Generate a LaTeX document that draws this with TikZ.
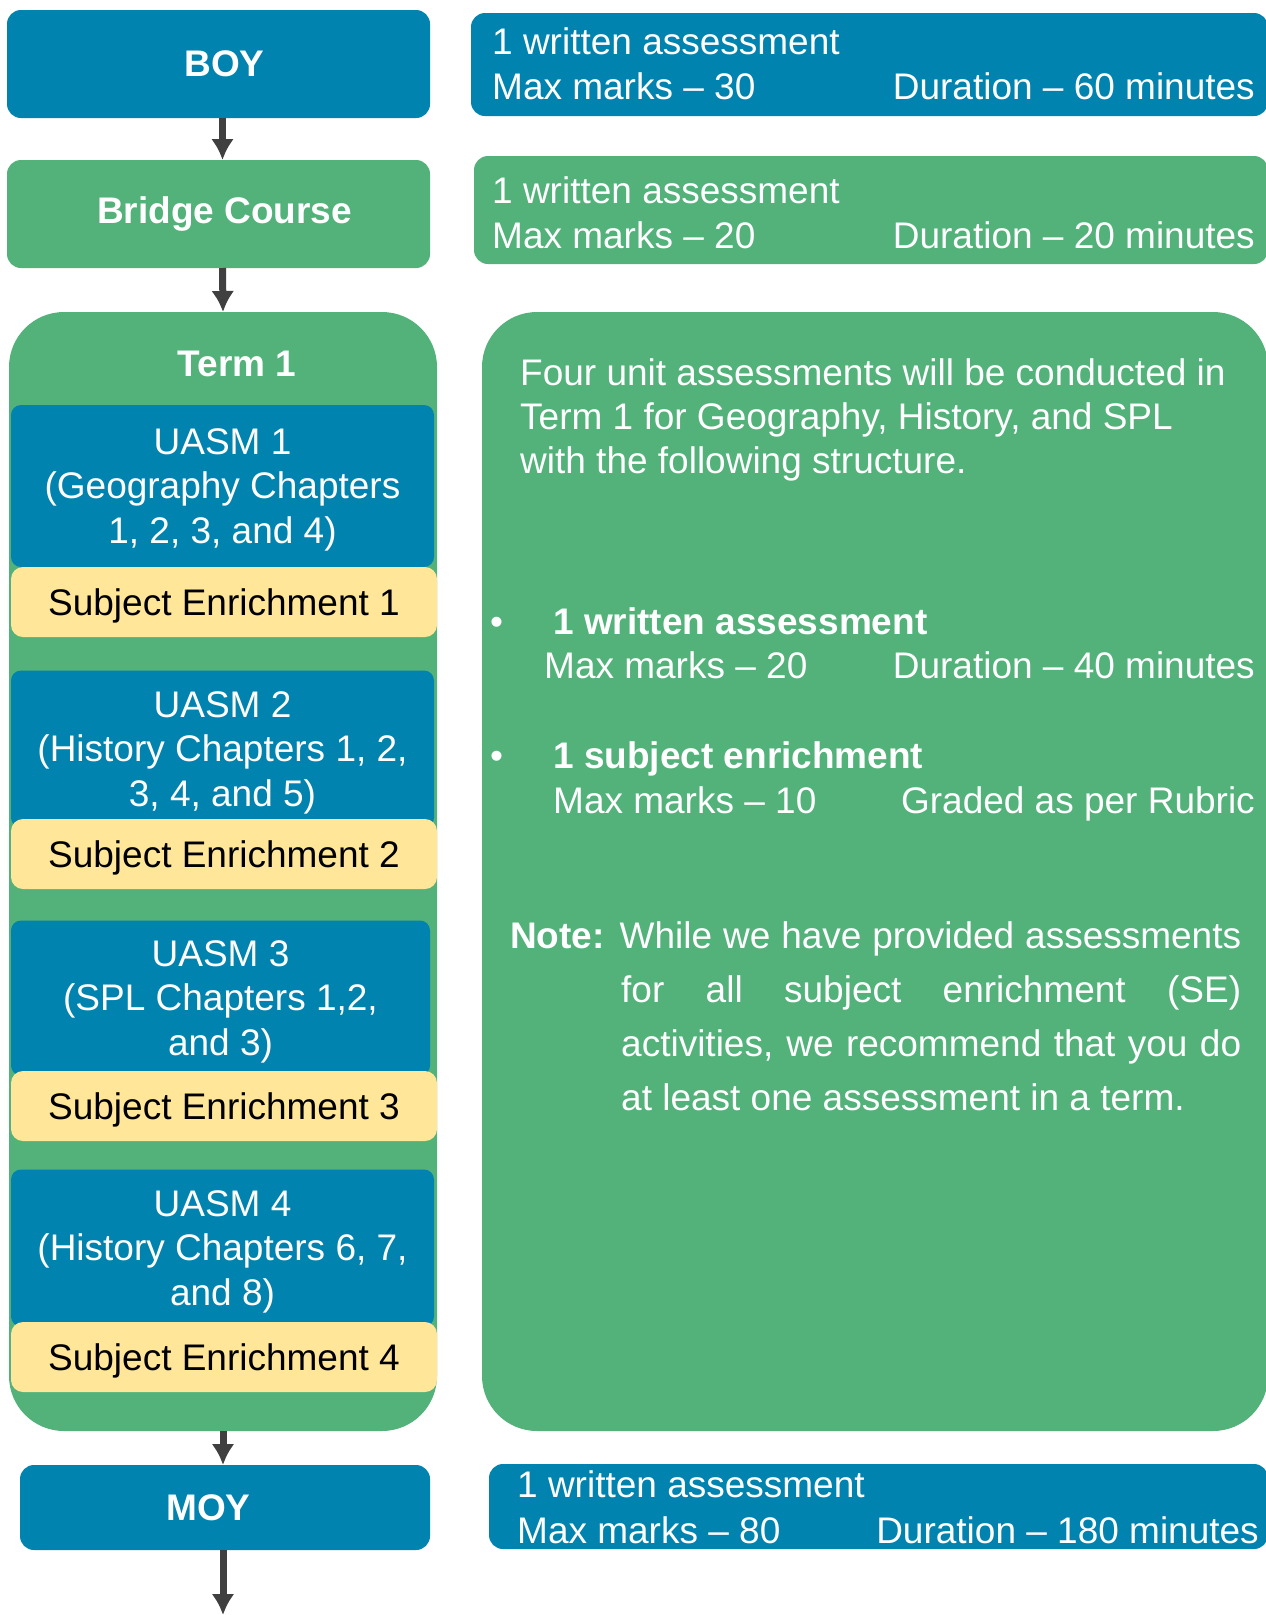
\documentclass[tikz,border=0pt]{standalone}
\usepackage{fontspec}
\setmainfont{Liberation Sans}
\usepackage{tikz}
\usetikzlibrary{calc,arrows.meta}

\definecolor{planblue}{RGB}{0,131,175}
\definecolor{plangreen}{RGB}{82,178,122}
\definecolor{planyellow}{RGB}{255,230,153}
\definecolor{arrowgrey}{RGB}{64,64,64}

\newcommand{\planfont}{\fontsize{37}{44.5}\selectfont}

\tikzset{
  box/.style={inner sep=0pt, outer sep=0pt, rounded corners=14pt, text=white},
  stagebox/.style={box, fill=planblue, font=\planfont\bfseries},
  infobox/.style={box, fill=planblue},
  uasmbox/.style={box, fill=planblue, rounded corners=10pt, align=center, text depth=0pt, font=\planfont},
  sebox/.style={box, fill=planyellow, text=black, rounded corners=12pt, text depth=0pt, font=\planfont},
  infotext/.style={inner sep=0pt, text=white, font=\planfont},
  flow/.style={-{Latex[length=21pt,width=23pt]}, line width=7pt, draw=arrowgrey},
}

\begin{document}
\begin{tikzpicture}[x=1pt, y=-1pt]
    \useasboundingbox (0,0) rectangle (1266,1615);
    \clip (0,0) rectangle (1266,1615);
    % stages on the left
    \node[stagebox, minimum width=423pt, minimum height=108pt] (boy) at (218.5,64) {\hspace*{12pt}BOY};
    \node[stagebox, fill=plangreen, minimum width=423pt, minimum height=108pt] (bridge) at (218.5,214) {\hspace*{12pt}Bridge Course};
    \node[box, fill=plangreen, rounded corners=55pt, minimum width=428pt, minimum height=1119pt] (term) at (223,871.5) {};
    \node[infotext, font=\planfont\bfseries] (termlabel) at (237,364) {Term 1};
    \node[stagebox, minimum width=410pt, minimum height=85pt] (moy) at (225,1507.5) {MOY\hspace*{33pt}};
    % unit assessments inside term 1
    \node[uasmbox, minimum width=423pt, minimum height=162pt] (uasma) at (222.5,486) {UASM 1\\(Geography Chapters\\1, 2, 3, and 4)};
    \node[sebox, minimum width=426pt, minimum height=70pt] (sea) at (224,602) {Subject Enrichment 1};
    \node[uasmbox, minimum width=423pt, minimum height=157pt] (uasmb) at (222.5,749) {UASM 2\\(History Chapters 1, 2,\\3, 4, and 5)};
    \node[sebox, minimum width=426pt, minimum height=70pt] (seb) at (224,854) {Subject Enrichment 2};
    \node[uasmbox, minimum width=419pt, minimum height=155pt] (uasmc) at (220.5,998) {UASM 3\\(SPL Chapters 1,2,\\and 3)};
    \node[sebox, minimum width=426pt, minimum height=70pt] (sec) at (224,1106) {Subject Enrichment 3};
    \node[uasmbox, minimum width=423pt, minimum height=157pt] (uasmd) at (222.5,1248) {UASM 4\\(History Chapters 6, 7,\\and 8)};
    \node[sebox, minimum width=426pt, minimum height=70pt] (sed) at (224,1357) {Subject Enrichment 4};
    % flow
    \draw[flow] ([xshift=4pt]boy.south) -- ([xshift=4pt]bridge.north);
    \draw[flow] ([xshift=4pt]bridge.south) -- (term.north);
    \draw[flow] (term.south) -- ([xshift=-2pt]moy.north);
    \coordinate (yearend) at (223,1615);
    \draw[flow] ([xshift=-2pt]moy.south) -- (yearend);
    % info on the right
    \node[infobox, minimum width=797pt, minimum height=103pt] (boyinfo) at (869.5,64.5) {};
    \node[infotext, anchor=base west] (boyline) at (492,54) {1 written assessment};
    \node[infotext, anchor=base west] (boymarks) at (492,99) {Max marks -- 30};
    \node[infotext, anchor=base east] (boytime) at (1255,99) {Duration -- 60 minutes};
    \node[infobox, fill=plangreen, minimum width=794pt, minimum height=108pt] (bridgeinfo) at (871,210) {};
    \node[infotext, anchor=base west] (bridgeline) at (492,203) {1 written assessment};
    \node[infotext, anchor=base west] (bridgemarks) at (492,248) {Max marks -- 20};
    \node[infotext, anchor=base east] (bridgetime) at (1255,248) {Duration -- 20 minutes};
    \node[box, fill=plangreen, rounded corners=55pt, minimum width=786pt, minimum height=1119pt] (terminfo) at (875,871.5) {};
    \node[infotext, anchor=base west] (introa) at (520,385) {Four unit assessments will be conducted in};
    \node[infotext, anchor=base west] (introb) at (520,429) {Term 1 for Geography, History, and SPL};
    \node[infotext, anchor=base west] (introc) at (520,473) {with the following structure.};
    \node[infotext, anchor=base west] (dota) at (490,634) {•};
    \node[infotext, anchor=base west, font=\planfont\bfseries] (writtenhead) at (553,634) {1 written assessment};
    \node[infotext, anchor=base west] (writtenmarks) at (544,678) {Max marks -- 20};
    \node[infotext, anchor=base east] (writtentime) at (1255,678) {Duration -- 40 minutes};
    \node[infotext, anchor=base west] (dotb) at (490,768) {•};
    \node[infotext, anchor=base west, font=\planfont\bfseries] (sehead) at (553,768) {1 subject enrichment};
    \node[infotext, anchor=base west] (semarks) at (553,813) {Max marks -- 10};
    \node[infotext, anchor=base east] (segrade) at (1255,813) {Graded as per Rubric};
    \node[infotext, anchor=north west, text width=731pt, align=justify, font=\fontsize{37}{54}\selectfont] (note) at (510,921)
      {\noindent\hangindent=111pt\hangafter=1\hyphenpenalty=10000\textbf{Note:} While we have provided assessments for all subject enrichment (SE) activities, we recommend that you do at least one assessment in a term.\par};
    \node[infobox, minimum width=779pt, minimum height=85pt] (moyinfo) at (878.5,1506.5) {};
    \node[infotext, anchor=base west] (moyline) at (517,1497) {1 written assessment};
    \node[infotext, anchor=base west] (moymarks) at (517,1543) {Max marks -- 80};
    \node[infotext, anchor=base east] (moytime) at (1259,1543) {Duration -- 180 minutes};
\end{tikzpicture}
\end{document}
